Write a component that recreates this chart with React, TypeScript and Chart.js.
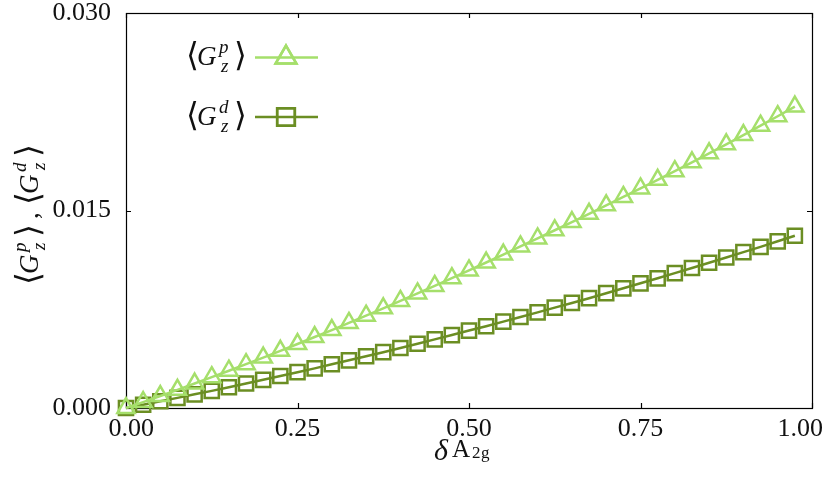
import React, { useEffect, useRef } from "react";
import { Chart, registerables } from "chart.js";
import { drawPoint } from "chart.js/helpers";

Chart.register(...registerables);

// ---- data ----
const deltaValues = [
  0, 0.025, 0.05, 0.075, 0.1, 0.125, 0.15, 0.175, 0.2, 0.225,
  0.25, 0.275, 0.3, 0.325, 0.35, 0.375, 0.4, 0.425, 0.45, 0.475,
  0.5, 0.525, 0.55, 0.575, 0.6, 0.625, 0.65, 0.675, 0.7, 0.725,
  0.75, 0.775, 0.8, 0.825, 0.85, 0.875, 0.9, 0.925, 0.95, 0.975,
];
const gzP = [
  0, 0.00045, 0.00091, 0.00138, 0.00186, 0.00234, 0.00283, 0.00333, 0.00383, 0.00434,
  0.00486, 0.00539, 0.00592, 0.00646, 0.00701, 0.00757, 0.00813, 0.0087, 0.00927, 0.00986,
  0.01045, 0.01105, 0.01165, 0.01227, 0.01288, 0.0135, 0.01412, 0.01475, 0.01539, 0.01603,
  0.01668, 0.01733, 0.01799, 0.01866, 0.01934, 0.02003, 0.02073, 0.02144, 0.02216, 0.02289,
];
const gzD = [
  0, 0.00025, 0.00051, 0.00077, 0.00104, 0.0013, 0.00158, 0.00186, 0.00214, 0.00243,
  0.00272, 0.00301, 0.00332, 0.00362, 0.00393, 0.00424, 0.00456, 0.00488, 0.00521, 0.00554,
  0.00588, 0.00621, 0.00656, 0.00691, 0.00726, 0.00762, 0.00798, 0.00834, 0.00872, 0.00909,
  0.00947, 0.00985, 0.01024, 0.01063, 0.01103, 0.01143, 0.01184, 0.01224, 0.01266, 0.01308,
];
const xTickStep = 0.25;
const yTickStep = 0.015;

const LIGHT = "#a5df6b";
const DARK = "#6b8e23";
const TEXT = "#111";
const SERIF = '"Liberation Serif", "DejaVu Serif", serif';

type Piece = { t: string; dx: number; dy: number; size: number; italic?: boolean };

function groupPieces(sup: string): Piece[] {
  return [
    { t: "\u27E8", dx: -1, dy: 1, size: 33 },
    { t: "G", dx: 10, dy: 0, size: 27, italic: true },
    { t: sup, dx: 32, dy: -12, size: 19, italic: true },
    { t: "z", dx: 34, dy: 7, size: 19, italic: true },
    { t: "\u27E9", dx: 47, dy: 1, size: 33 },
  ];
}

function drawPieces(ctx: CanvasRenderingContext2D, x0: number, y0: number, pieces: Piece[]) {
  ctx.fillStyle = TEXT;
  ctx.textAlign = "left";
  ctx.textBaseline = "alphabetic";
  for (const p of pieces) {
    ctx.font = `${p.italic ? "italic " : ""}${p.size}px ${SERIF}`;
    ctx.fillText(p.t, x0 + p.dx, y0 + p.dy);
  }
}

const framePlugin = {
  id: "frame",
  beforeDatasetsDraw(chart: any) {
    const { ctx, chartArea } = chart;
    const { left, right, top, bottom } = chartArea;
    ctx.save();
    ctx.strokeStyle = "#000";
    ctx.lineWidth = 1.2;
    ctx.strokeRect(left + 0.5, top + 0.5, right - left, bottom - top);
    const tl = 5;
    ctx.beginPath();
    const xs = chart.scales.x;
    for (const t of xs.ticks) {
      const px = Math.round(xs.getPixelForValue(t.value)) + 0.5;
      ctx.moveTo(px, bottom);
      ctx.lineTo(px, bottom - tl);
      ctx.moveTo(px, top);
      ctx.lineTo(px, top + tl);
    }
    const ys = chart.scales.y;
    for (const t of ys.ticks) {
      const py = Math.round(ys.getPixelForValue(t.value)) + 0.5;
      ctx.moveTo(left, py);
      ctx.lineTo(left + tl, py);
      ctx.moveTo(right, py);
      ctx.lineTo(right - tl, py);
    }
    ctx.stroke();
    ctx.restore();
  },
  afterDraw(chart: any) {
    const { ctx } = chart;
    ctx.save();
    // legend
    const rows = [
      { sup: "p", base: 65, lineY: 57.5, color: LIGHT, style: "triangle", r: 12 },
      { sup: "d", base: 124.5, lineY: 117, color: DARK, style: "rect", r: 12.5 },
    ];
    for (const row of rows) {
      drawPieces(ctx, 187, row.base, groupPieces(row.sup));
      ctx.strokeStyle = row.color;
      ctx.lineWidth = 2.5;
      ctx.beginPath();
      ctx.moveTo(255, row.lineY);
      ctx.lineTo(318, row.lineY);
      ctx.stroke();
      ctx.fillStyle = "rgba(0,0,0,0)";
      drawPoint(ctx, { pointStyle: row.style, radius: row.r, rotation: 0, borderWidth: 2.5 } as any, 286, row.lineY);
      ctx.stroke();
    }
    // y-axis title (rotated)
    ctx.save();
    ctx.translate(38, 284);
    ctx.rotate(-Math.PI / 2);
    drawPieces(ctx, 0, 0, groupPieces("p"));
    ctx.font = `27px ${SERIF}`;
    ctx.fillText(",", 65, 0);
    drawPieces(ctx, 80, 0, groupPieces("d"));
    ctx.restore();
    // x-axis title
    drawPieces(ctx, 434, 460, [
      { t: "\u03B4", dx: 0, dy: 0, size: 30, italic: true },
      { t: "A", dx: 18, dy: -3, size: 25 },
      { t: "2", dx: 38, dy: -2, size: 17 },
      { t: "g", dx: 47, dy: -2, size: 17 },
    ]);
    ctx.restore();
  },
};

function xLabel(v: number): string {
  const s = v.toFixed(2);
  if (v <= 0) return "\u2009\u2009" + s;
  if (v >= 1) return s + "\u2002\u2009\u2009";
  return s;
}

export default function App() {
  const ref = useRef<HTMLCanvasElement | null>(null);
  useEffect(() => {
    const canvas = ref.current;
    if (!canvas) return;
    const mk = (vals: number[]) => deltaValues.map((x, i) => ({ x, y: vals[i] }));
    const tickFont = { family: SERIF, size: 26, lineHeight: 1 };
    const chart = new Chart(canvas, {
      type: "line",
      data: {
        datasets: [
          {
            label: "Gp",
            data: mk(gzP),
            borderColor: LIGHT,
            backgroundColor: "rgba(0,0,0,0)",
            pointBackgroundColor: "rgba(0,0,0,0)",
            pointBorderColor: LIGHT,
            pointStyle: "triangle",
            pointRadius: 10,
            pointBorderWidth: 2.5,
            borderWidth: 2.5,
            clip: false,
          },
          {
            label: "Gd",
            data: mk(gzD),
            borderColor: DARK,
            backgroundColor: "rgba(0,0,0,0)",
            pointBackgroundColor: "rgba(0,0,0,0)",
            pointBorderColor: DARK,
            pointStyle: "rect",
            pointRadius: 10,
            pointBorderWidth: 2.5,
            borderWidth: 2.5,
            clip: false,
          },
        ],
      },
      options: {
        responsive: false,
        animation: false,
        devicePixelRatio: 1,
        layout: { padding: { left: 0, top: 13, right: 18, bottom: 0 } },
        plugins: { legend: { display: false }, tooltip: { enabled: false } },
        scales: {
          x: {
            type: "linear",
            min: 0,
            max: 1,
            ticks: {
              stepSize: xTickStep,
              callback: (v: any) => xLabel(Number(v)),
              font: tickFont,
              color: TEXT,
              padding: 8,
              maxRotation: 0,
              autoSkip: false,
            },
            grid: { display: false, drawTicks: false },
            border: { display: false },
            afterFit: (s: any) => {
              s.height = 73;
              s.paddingLeft = 0;
              s.paddingRight = 0;
            },
          },
          y: {
            type: "linear",
            min: 0,
            max: 0.03,
            ticks: {
              stepSize: yTickStep,
              callback: (v: any) => Number(v).toFixed(3),
              font: tickFont,
              color: TEXT,
              padding: 15,
              autoSkip: false,
            },
            grid: { display: false, drawTicks: false },
            border: { display: false },
            afterFit: (s: any) => {
              s.width = 126;
              s.paddingTop = 0;
              s.paddingBottom = 0;
            },
          },
        },
      } as any,
      plugins: [framePlugin],
    });
    return () => chart.destroy();
  }, []);
  return (
    <div style={{ position: "fixed", left: 0, top: 0, width: 830, height: 481, background: "#fff" }}>
      <canvas ref={ref} width={830} height={481} style={{ display: "block" }} />
    </div>
  );
}
